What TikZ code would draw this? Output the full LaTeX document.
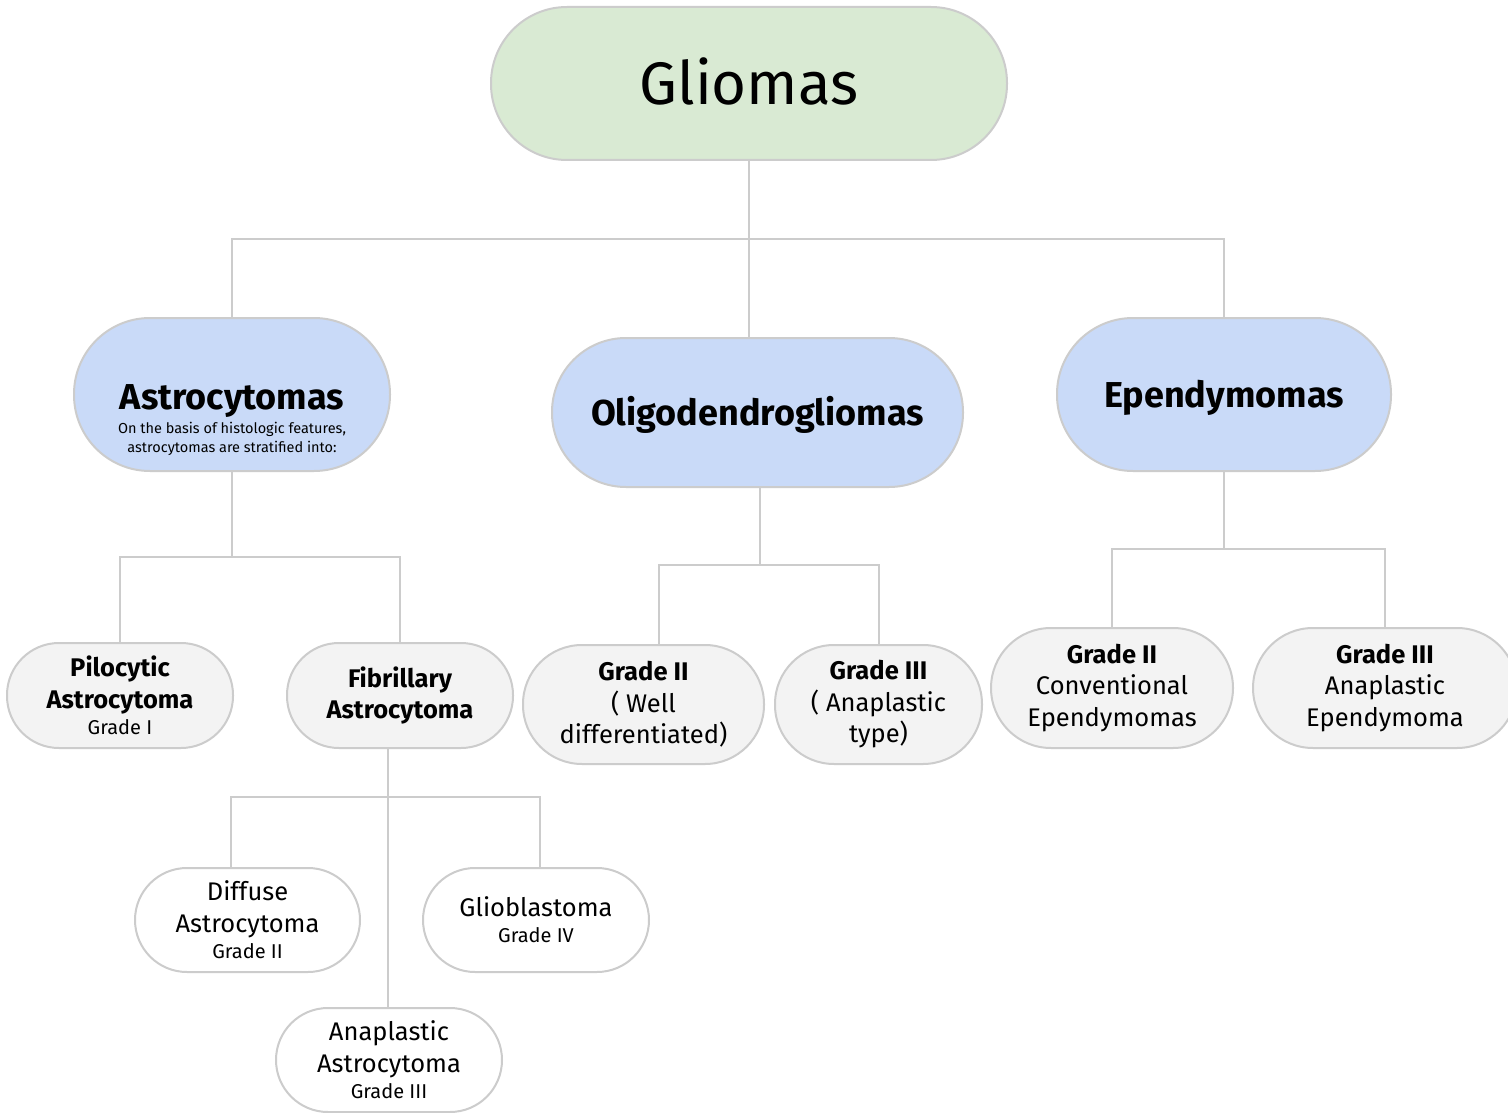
\documentclass[tikz,border=0pt]{standalone}
\usepackage{fontspec}
\setmainfont{Fira Sans}
\definecolor{lineg}{HTML}{CCCCCC}
\definecolor{gfill}{HTML}{D9EAD3}
\definecolor{bfill}{HTML}{C9DAF8}
\definecolor{lfill}{HTML}{F3F3F3}
\tikzset{
  pill/.style={draw=lineg, line width=2pt, rectangle, inner sep=0pt, align=center, text=black},
  conn/.style={draw=lineg, line width=2pt},
  big/.style={pill, fill=bfill, minimum width=316pt, minimum height=153pt, rounded corners=76pt,
    font=\bfseries\fontsize{36}{40}\selectfont, text height=25pt, text depth=0pt},
  mid/.style={pill, fill=lfill, minimum width=226pt, minimum height=105pt, rounded corners=52pt,
    font=\fontsize{25.5}{31.5}\selectfont},
  low/.style={pill, fill=white, minimum width=226pt, minimum height=104pt, rounded corners=52pt,
    font=\fontsize{25.5}{32}\selectfont}
}
\newcommand{\gr}[1]{{\fontsize{20}{20}\selectfont #1}}
\begin{document}
\begin{tikzpicture}[x=1pt,y=-1pt]
\useasboundingbox[fill=white] (0,0) rectangle (1508,1113);

% level 0
\node[pill, fill=gfill, minimum width=516pt, minimum height=153pt, rounded corners=76pt,
  font=\fontsize{60}{66}\selectfont, text height=42pt, text depth=0pt] (glio) at (749,83.5) {Gliomas};

% level 1
\node[big] (astro) at (232,394.5) {};
\node[font=\bfseries\fontsize{36}{40}\selectfont, anchor=base, inner sep=0pt] (astrot) at (232,409) {Astrocytomas};
\node[font=\fontsize{14.5}{19}\selectfont, align=center, anchor=base, inner sep=0pt] (astros) at (232,452) {On the basis of histologic features,\\ astrocytomas are stratified into:};
\node[big, minimum width=411pt, minimum height=149pt, rounded corners=74pt] (oligo) at (757.5,412.5) {Oligodendrogliomas};
\node[big, minimum width=334pt] (epend) at (1224,394.5) {Ependymomas};

% level 2
\node[mid] (pilo) at (120,695.5) {{\bfseries Pilocytic}\\{\bfseries Astrocytoma}\\[-5pt]\gr{Grade I}};
\node[mid] (fib) at (400,695.5) {{\bfseries Fibrillary}\\{\bfseries Astrocytoma}};
\node[mid, minimum width=241pt, minimum height=119pt, rounded corners=59pt] (g2o) at (643.5,704.5) {{\bfseries Grade II}\\( Well\\differentiated)};
\node[mid, minimum width=207pt, minimum height=119pt, rounded corners=59pt] (g3o) at (878.5,704.5) {{\bfseries Grade III}\\( Anaplastic\\type)};
\node[mid, minimum width=242pt, minimum height=120pt, rounded corners=60pt] (g2e) at (1112,688) {{\bfseries Grade II}\\Conventional\\Ependymomas};
\node[mid, minimum width=264pt, minimum height=120pt, rounded corners=60pt] (g3e) at (1385,688) {{\bfseries Grade III}\\Anaplastic\\Ependymoma};

% level 3
\node[low, minimum width=225pt] (diff) at (247.5,920) {Diffuse\\Astrocytoma\\[-6pt]\gr{Grade II}};
\node[low] (gbm) at (536,920) {Glioblastoma\\[-6pt]\gr{Grade IV}};
\node[low] (ana) at (389,1060) {Anaplastic\\Astrocytoma\\[-6pt]\gr{Grade III}};

% connectors
\coordinate (j1) at (749,239);
\draw[conn] (glio.south) -- (j1);
\draw[conn] (astro.north) |- (j1) -| (epend.north);
\draw[conn] (j1) -- (j1 |- oligo.north);

\coordinate (j2) at (232,557);
\draw[conn] (astro.south) -- (j2);
\draw[conn] (pilo.north) |- (j2) -| (fib.north);

\coordinate (j3) at (760,565);
\draw[conn] (j3 |- oligo.south) -- (j3);
\draw[conn] ([xshift=15.5pt]g2o.north) |- (j3) -| (g3o.north);

\coordinate (j4) at (1224,549);
\draw[conn] (epend.south) -- (j4);
\draw[conn] (g2e.north) |- (j4) -| (g3e.north);

\coordinate (j5) at (388,797);
\draw[conn] (j5 |- fib.south) -- (j5);
\draw[conn] ([xshift=-16.5pt]diff.north) |- (j5) -| ([xshift=4pt]gbm.north);
\draw[conn] (j5) -- (j5 |- ana.north);
\end{tikzpicture}
\end{document}
